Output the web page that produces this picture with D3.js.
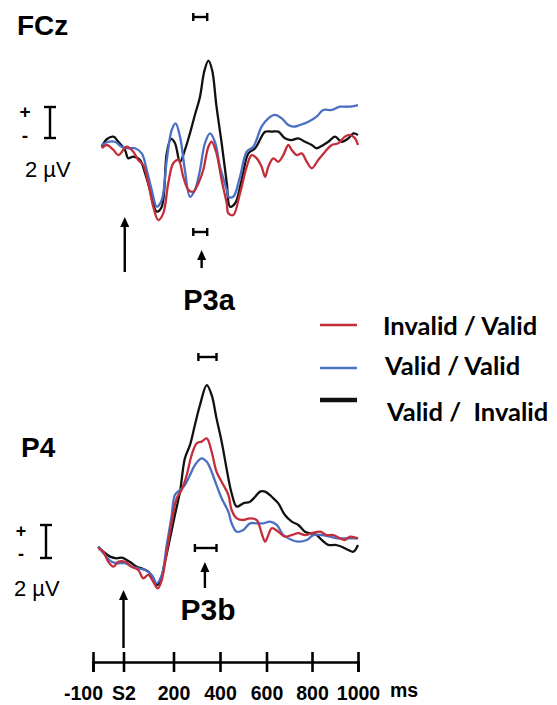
<!DOCTYPE html>
<html><head><meta charset="utf-8">
<script src="https://cdn.jsdelivr.net/npm/d3@7"></script>
<style>body{margin:0;background:#fff} svg{display:block}</style>
</head><body>
<script>
// ---- data (time in ms, amplitude in µV) ----
const tickValuesMs = [-100, 0, 200, 400, 600, 800, 1000];
const tickLabels = ["-100", "S2", "200", "400", "600", "800", "1000"];
const seriesNames = ["Invalid / Valid", "Valid / Valid", "Valid /  Invalid"];
const seriesColors = ["#c42d3a", "#4a6fc4", "#111111"];

const fczInvalidValid = [[-71,-0.21],[-55,0],[-33,-0.32],[-17,-0.65],[13,-0.11],[39,-0.43],[59,-0.97],[79,-1.29],[99,-2.47],[119,-3.98],[139,-4.84],[159,-4.41],[179,-2.47],[199,-1.18],[221,-0.97],[242,-2.05],[264,-2.9],[285,-3.01],[307,-2.47],[328,-1.61],[350,-0.11],[364,0.21],[385,-0.54],[407,-2.26],[429,-3.76],[436,-4.41],[457,-4.52],[486,-3.12],[515,-1.4],[536,-0.65],[558,-0.86],[579,-1.4],[594,-2.05],[608,-1.4],[630,-0.86],[652,-1.08],[674,-0.65],[696,0],[711,-0.32],[733,-0.65],[755,-0.54],[777,-1.08],[799,-1.5],[827,-0.97],[857,-0.43],[886,0],[914,0.11],[943,0.54],[965,0.65],[987,0.43],[1000,0]];
const fczValidValid = [[-71,0],[-50,0.21],[-28,0.21],[-6,-0.11],[19,-0.21],[46,-0.21],[73,-0.54],[93,-1.61],[113,-2.9],[133,-3.98],[153,-3.55],[173,-0.97],[193,0.97],[209,1.4],[228,0.54],[249,-1.61],[271,-3.34],[292,-2.9],[314,-1.61],[335,0.11],[357,0.75],[378,0.21],[400,-1.4],[429,-2.9],[436,-3.34],[457,-3.34],[486,-2.05],[515,-0.43],[543,-0.11],[579,1.18],[608,1.72],[637,1.94],[667,1.72],[696,1.29],[718,1.18],[747,1.29],[784,1.5],[820,1.83],[849,2.26],[886,2.26],[922,2.47],[958,2.47],[1000,2.58]];
const fczValidInvalid = [[-71,-0.11],[-55,0.37],[-33,0.54],[-17,0.21],[6,-0.32],[19,-0.86],[39,-0.75],[66,-0.97],[86,-1.81],[106,-2.9],[133,-4.3],[153,-3.98],[173,-0.54],[190,0.39],[206,0.13],[228,-1.08],[249,-0.32],[271,0.77],[292,1.94],[314,3.12],[332,4.73],[350,5.44],[366,4.84],[385,2.47],[407,0.13],[429,-2.45],[443,-3.98],[465,-3.76],[493,-2.26],[522,-0.54],[551,-0.21],[579,0.54],[594,0.86],[623,0.86],[652,0.86],[681,0.43],[711,0.32],[740,0.43],[769,0.21],[799,0],[820,-0.21],[849,0],[871,0.21],[900,0.54],[929,0.21],[958,0.43],[980,0.75],[1000,0.65]];

const p4InvalidValid = [[-83,0.41],[-66,0.2],[-50,-0.41],[-33,-0.71],[-17,-0.41],[6,-0.41],[33,-0.71],[59,-0.91],[79,-1.41],[99,-1.21],[119,-1.62],[137,-2.02],[153,-1.52],[173,0.2],[193,2.02],[214,3.44],[235,3.94],[257,4.85],[278,6.06],[300,6.77],[321,6.87],[343,7.07],[364,6.26],[385,5.05],[407,4.44],[436,3.64],[450,2.73],[472,2.22],[500,2.12],[529,2.22],[558,2.12],[579,1.32],[594,0.81],[608,1.21],[623,1.62],[652,1.41],[681,1.11],[711,1.21],[740,1.32],[769,1.21],[799,1.32],[835,1.41],[864,1.21],[893,1.21],[922,1.01],[943,0.91],[965,1.11],[1000,1.01]];
const p4ValidValid = [[-83,0.5],[-61,0],[-39,-0.41],[-17,-0.5],[6,-0.5],[33,-0.71],[59,-0.81],[86,-0.91],[113,-1.21],[133,-1.72],[153,-1.21],[173,0.61],[193,2.42],[206,3.64],[228,3.94],[249,4.24],[271,4.85],[292,5.45],[321,5.86],[343,5.65],[364,5.05],[385,4.24],[407,3.44],[436,2.62],[450,1.92],[472,1.41],[500,1.52],[529,1.92],[558,1.92],[587,1.92],[615,2.02],[645,1.82],[674,1.21],[711,0.91],[740,0.81],[777,0.91],[806,1.21],[842,1.21],[878,1.11],[914,1.01],[951,1.01],[1000,1.01]];
const p4ValidInvalid = [[-83,0.5],[-66,0.2],[-44,-0.1],[-22,-0.2],[-6,-0.16],[13,-0.3],[33,-0.5],[53,-0.71],[73,-0.81],[99,-1.01],[119,-1.41],[133,-1.82],[146,-1.62],[166,-0.41],[186,1.01],[206,2.42],[228,3.84],[249,5.86],[271,6.67],[292,7.88],[314,9.09],[343,10.3],[364,9.7],[385,8.28],[407,6.87],[436,4.65],[450,3.74],[472,2.93],[500,3.13],[529,3.23],[551,3.53],[572,3.84],[594,3.84],[623,3.53],[652,3.13],[681,2.42],[711,2.02],[740,1.82],[769,1.41],[791,1.32],[820,1.21],[842,0.91],[871,0.61],[900,0.61],[929,0.5],[958,0.3],[980,0.2],[1000,0.61]];

// significance windows (ms)
const p3aWindow = [285, 345];
const p3bWindowUpper = [307, 385];
const p3bWindowLower = [292, 385];
const scaleBarUV = 2;

// ---- drawing ----
const W = 557, H = 705;
const svg = d3.select("body").append("svg").attr("width", W).attr("height", H);

const x = d3.scaleLinear().domain(tickValuesMs).range([93, 123.5, 173.5, 220, 266.5, 312, 358]);
const yTop = d3.scaleLinear().domain([-6, 6]).range([238, 52]);
const yBot = d3.scaleLinear().domain([-3, 11]).range([604.5, 373.5]);

const LBL = "'Liberation Sans', Arial, sans-serif";

function drawSeries(data, y, color, w) {
  svg.append("path").datum(data)
    .attr("fill", "none").attr("stroke", color).attr("stroke-width", w)
    .attr("stroke-linejoin", "round")
    .attr("d", d3.line().x(d => x(d[0])).y(d => y(d[1])).curve(d3.curveCatmullRom.alpha(0.5)));
}
[[fczValidInvalid, 2], [fczValidValid, 1], [fczInvalidValid, 0]].forEach(([d, i]) => drawSeries(d, yTop, seriesColors[i], 2.3));
[[p4ValidInvalid, 2], [p4ValidValid, 1], [p4InvalidValid, 0]].forEach(([d, i]) => drawSeries(d, yBot, seriesColors[i], 2.3));

function hbar(win, yy) {
  const g = svg.append("g").attr("stroke", "#000").attr("stroke-width", 2.4);
  g.append("line").attr("x1", x(win[0])).attr("x2", x(win[1])).attr("y1", yy).attr("y2", yy);
  g.append("line").attr("x1", x(win[0])).attr("x2", x(win[0])).attr("y1", yy - 4).attr("y2", yy + 4);
  g.append("line").attr("x1", x(win[1])).attr("x2", x(win[1])).attr("y1", yy - 4).attr("y2", yy + 4);
}
hbar(p3aWindow, 17);
hbar(p3aWindow, 232);
hbar(p3bWindowUpper, 357);
hbar(p3bWindowLower, 548);

function arrow(xx, yTip, yEnd) {
  svg.append("line").attr("x1", xx).attr("x2", xx).attr("y1", yTip + 6).attr("y2", yEnd)
    .attr("stroke", "#000").attr("stroke-width", 2.4);
  svg.append("path").attr("d", `M${xx},${yTip} L${xx - 4.5},${yTip + 10} L${xx + 4.5},${yTip + 10} Z`).attr("fill", "#000");
}
arrow(x(5), 217, 272);
arrow(x(321), 250, 268);
arrow(x(0), 590, 648);
arrow(x(335), 562, 588);

function text(t, xx, yy, size, anchor, fam, weight) {
  return svg.append("text").attr("x", xx).attr("y", yy).attr("font-family", fam || LBL)
    .attr("font-weight", weight || "bold").attr("font-size", size).attr("text-anchor", anchor || "start")
    .style("white-space", "pre").text(t);
}
text("FCz", 17, 35, 28);
text("P4", 21, 457, 28);
text("P3a", 209, 310, 29, "middle");
text("P3b", 208, 620, 30, "middle");

// scale bars
function scaleBar(xx, y, yBase, plusX, plusY, minusY, labX, labY, pmSize) {
  const y0 = y(0), y1 = y(scaleBarUV);
  const top = yBase - (y0 - y1);
  const g = svg.append("g").attr("stroke", "#000").attr("stroke-width", 2.4);
  g.append("line").attr("x1", xx).attr("x2", xx).attr("y1", top).attr("y2", yBase);
  g.append("line").attr("x1", xx - 6).attr("x2", xx + 6).attr("y1", top).attr("y2", top);
  g.append("line").attr("x1", xx - 6).attr("x2", xx + 6).attr("y1", yBase).attr("y2", yBase);
  text("+", plusX, plusY, pmSize, "middle");
  text("-", plusX, minusY, pmSize, "middle");
  text("2 µV", labX, labY, 22, "start", LBL, "normal");
}
scaleBar(50, yTop, 138, 25, 118, 142, 25, 177, 19);
scaleBar(46, yBot, 558, 21, 537, 560, 14, 596, 18);

// legend
const legY = [325, 368, 400];
const legTextY = [335, 375, 421];
const legTextX = [383, 385, 387];
seriesNames.forEach((n, i) => {
  svg.append("line").attr("x1", 320).attr("x2", 357).attr("y1", legY[i]).attr("y2", legY[i])
    .attr("stroke", seriesColors[i]).attr("stroke-width", i === 2 ? 4.5 : 2.6);
  text(n, legTextX[i], legTextY[i], 25.5, "start", "Lato, 'Open Sans', sans-serif");
});

// time axis
const axis = d3.axisBottom(x).tickValues(tickValuesMs).tickFormat((d, i) => tickLabels[i]).tickSizeOuter(0).tickSize(10).tickPadding(14);
const ax = svg.append("g").attr("transform", "translate(0,662)").call(axis);
ax.select(".domain").attr("stroke", "#000").attr("stroke-width", 2.6);
ax.selectAll(".tick line").attr("y1", -10).attr("y2", 10).attr("stroke-width", 2.6);
ax.selectAll(".tick text").attr("font-family", LBL).attr("font-weight", "bold").attr("font-size", 19.5).attr("fill", "#000")
  .attr("dx", (d, i) => i === 0 ? -10 : 0);
text("ms", 390, 697, 19.5);
</script>
</body></html>
